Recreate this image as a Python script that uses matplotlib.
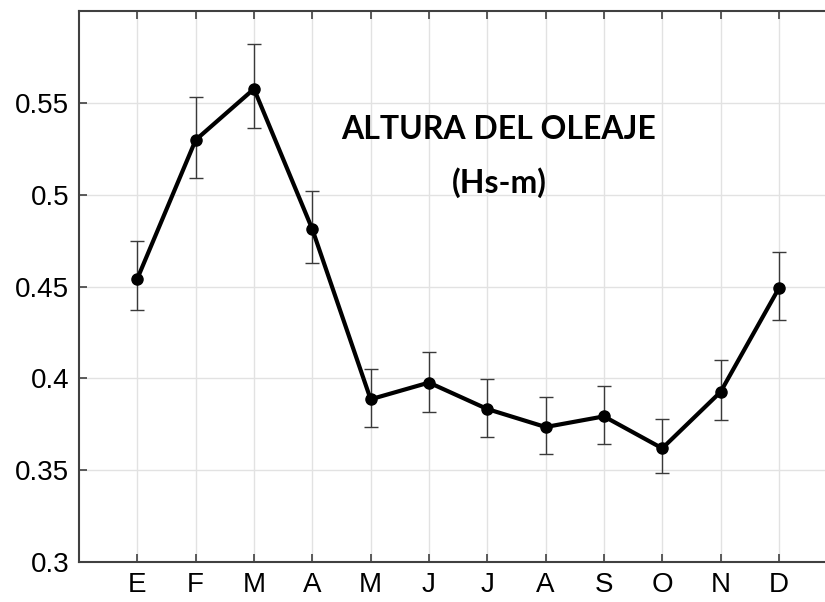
import matplotlib.pyplot as plt
import numpy as np

# monthly mean significant wave height with error bounds
months = ['E', 'F', 'M', 'A', 'M', 'J', 'J', 'A', 'S', 'O', 'N', 'D']
hs_mean = [0.4543, 0.5298, 0.5576, 0.4812, 0.3886, 0.3977, 0.3833, 0.3735, 0.3793, 0.3619, 0.3926, 0.4491]
hs_upper = [0.4748, 0.5533, 0.5821, 0.5022, 0.4051, 0.4145, 0.3999, 0.3897, 0.3957, 0.3779, 0.4100, 0.4690]
hs_lower = [0.4373, 0.5091, 0.5364, 0.4627, 0.3734, 0.3819, 0.3683, 0.3588, 0.3643, 0.3483, 0.3773, 0.4320]
yticks = [0.3, 0.35, 0.4, 0.45, 0.5, 0.55]
ytick_labels = ['0.3', '0.35', '0.4', '0.45', '0.5', '0.55']

x = np.arange(1, len(months) + 1)
mean = np.array(hs_mean)
err = [mean - np.array(hs_lower), np.array(hs_upper) - mean]

fig = plt.figure(figsize=(8.25, 6.02), dpi=100)
# axes run past the right edge of the figure, so only 12 month slots show
ax = fig.add_axes([0.0958, 0.0664, 0.9897, 0.9153])

ax.grid(True, color='#e2e2e2', lw=1)
ax.set_axisbelow(True)
ax.errorbar(x, mean, yerr=err, fmt='none', ecolor='#3a3a3a', elinewidth=1, capsize=5, capthick=1, zorder=2)
ax.plot(x, mean, color='black', lw=3, marker='o', ms=8, zorder=3)

ax.set_xlim(0, 14)
ax.set_ylim(0.3, 0.6)
ax.set_xticks(x)
ax.set_xticklabels(months)
ax.set_yticks(yticks)
ax.set_yticklabels(ytick_labels)
ax.tick_params(direction='in', length=6, width=1.2, color='#404040', top=True, labelsize=20, pad=7)
for lab in ax.get_xticklabels() + ax.get_yticklabels():
    lab.set_family('Liberation Sans')
for s in ax.spines.values():
    s.set_color('#404040')
    s.set_linewidth(1.5)
ax.spines['right'].set_visible(False)

ax.text(7.2, 0.5353, 'ALTURA DEL OLEAJE', ha='center', va='center', fontsize=23,
        fontweight='bold', family='Lato')
ax.text(7.2, 0.5064, '(Hs-m)', ha='center', va='center', fontsize=23,
        fontweight='bold', family='Lato')

fig.savefig('out.png', dpi=100)
